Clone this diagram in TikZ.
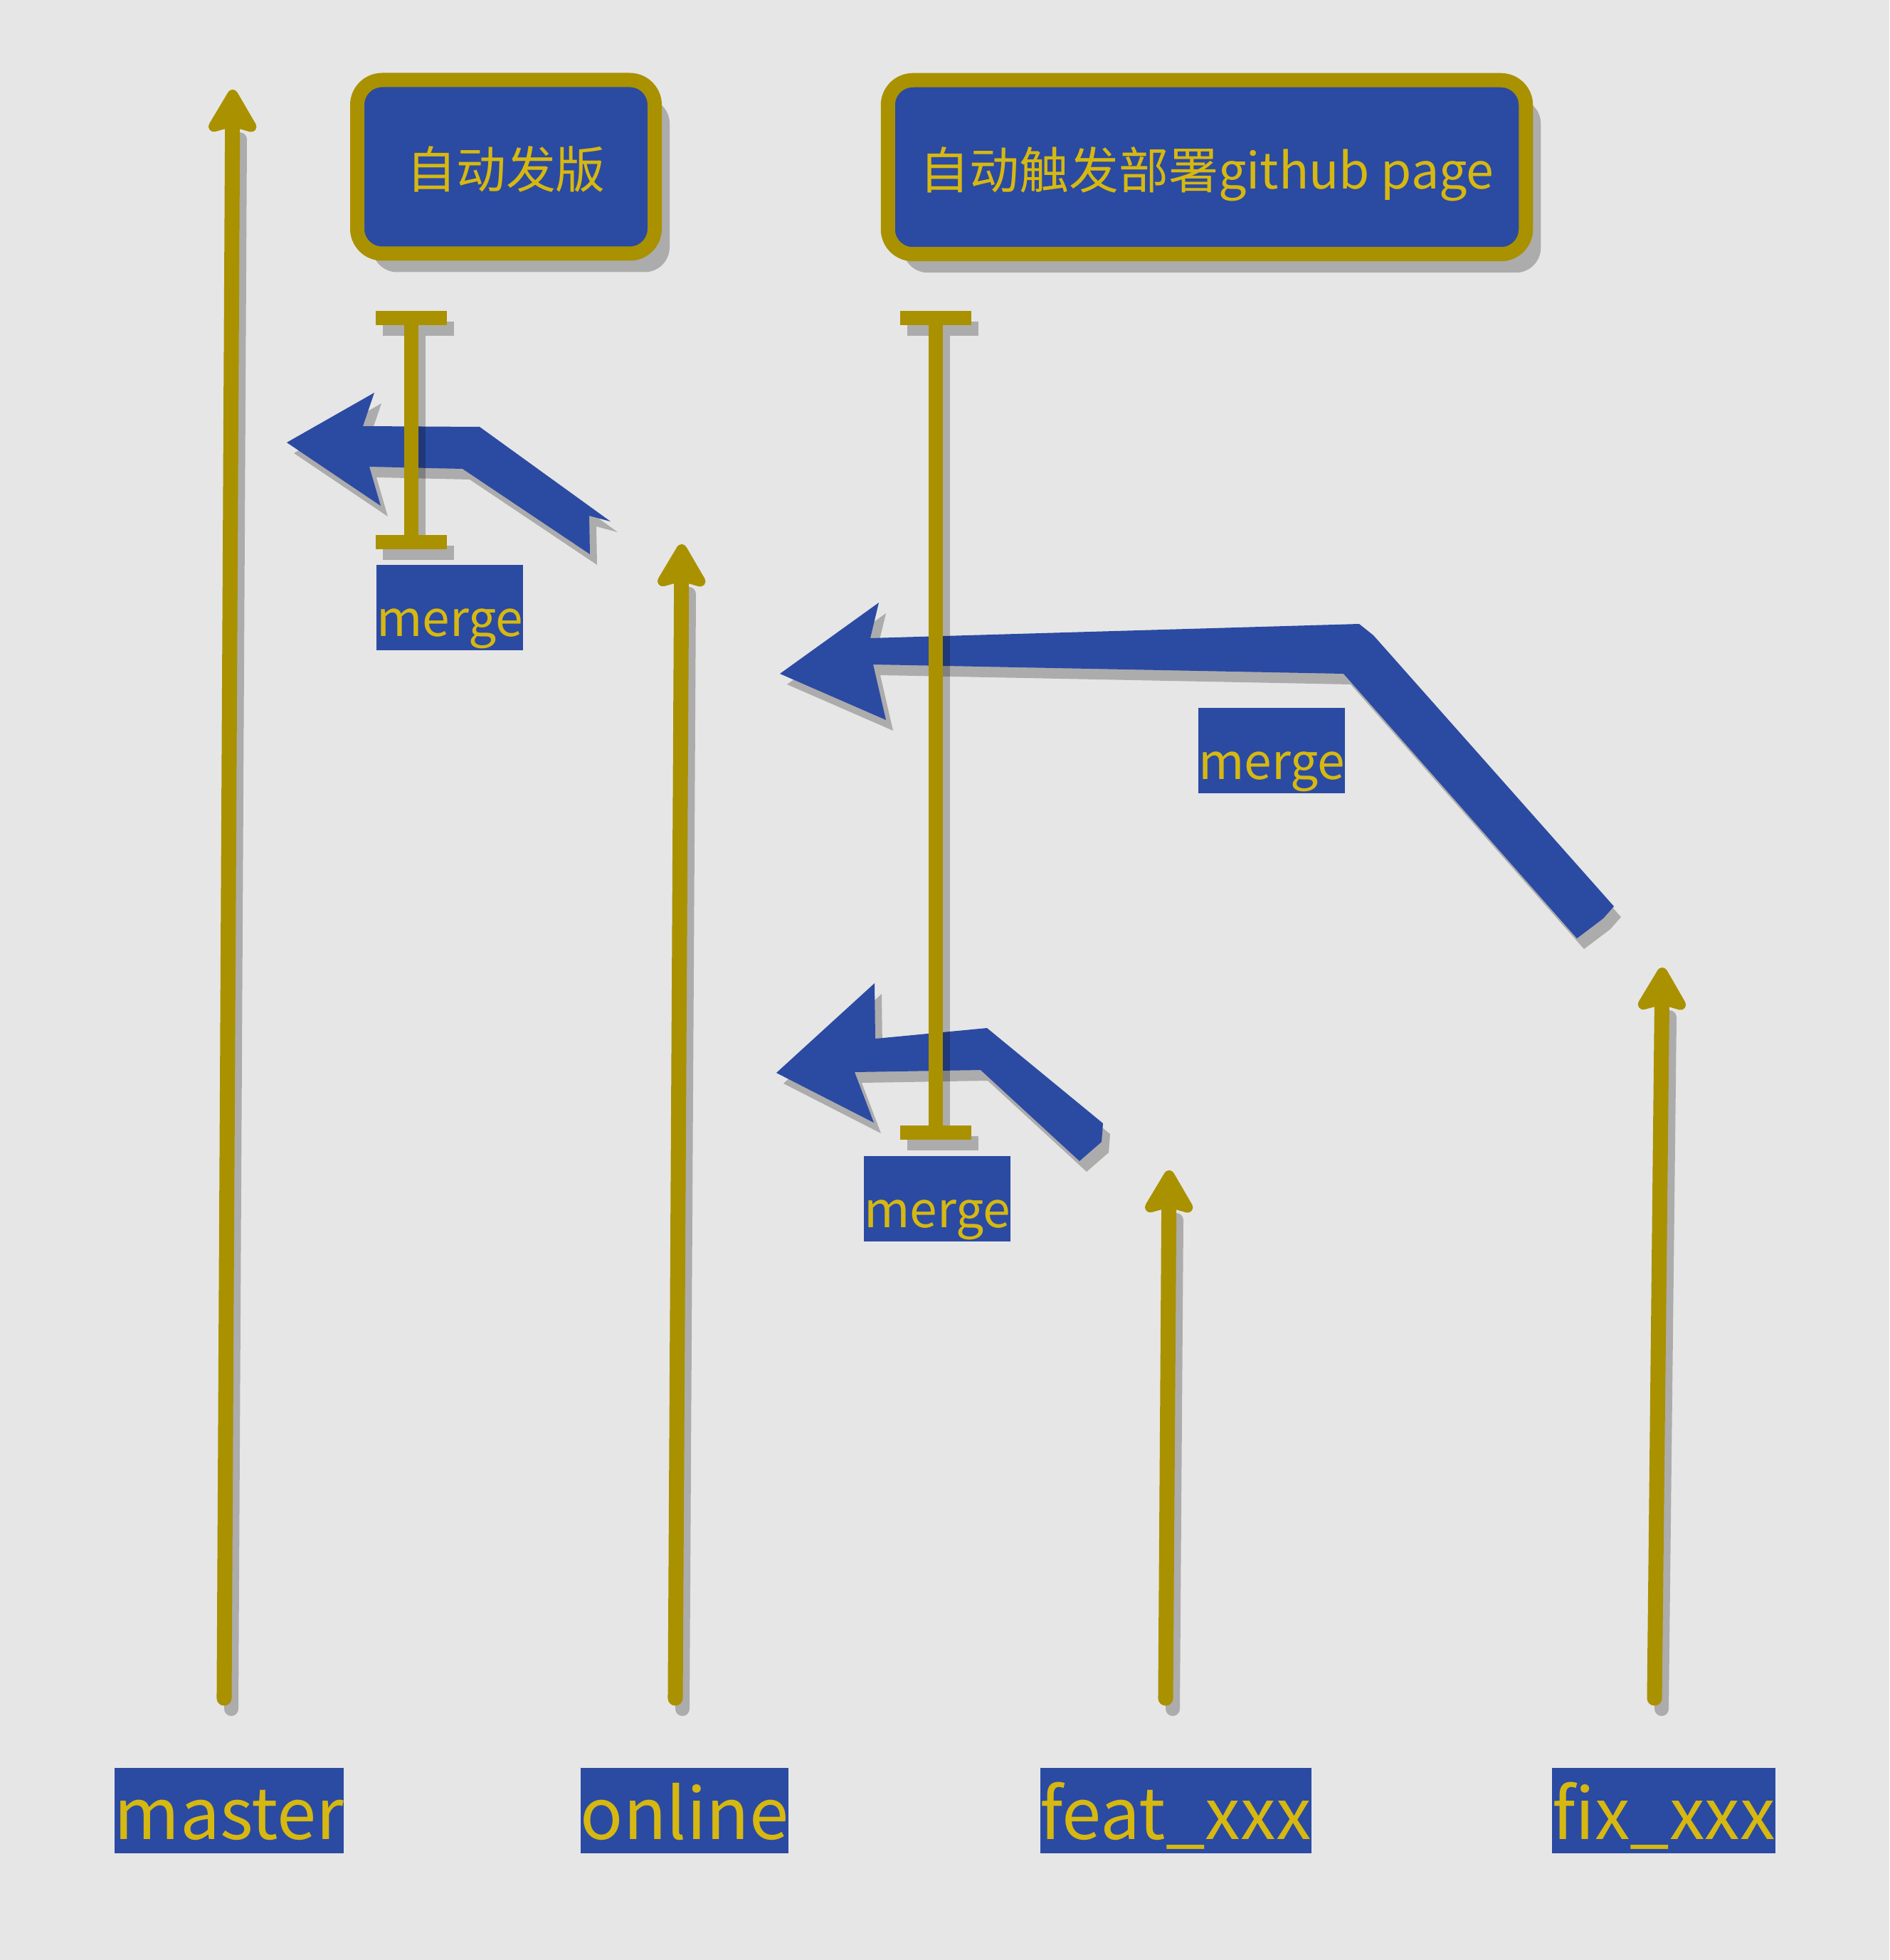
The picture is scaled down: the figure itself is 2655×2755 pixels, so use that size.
\documentclass[tikz,border=0pt]{standalone}
\usepackage{fontspec}
\setmainfont{Noto Sans CJK SC}
\usetikzlibrary{arrows.meta,shadows}

\definecolor{canvas}{RGB}{230,230,230}
\definecolor{flowblue}{RGB}{43,74,162}
\definecolor{branchgold}{RGB}{170,145,0}
\definecolor{labelgold}{RGB}{214,184,16}

\tikzset{
  branchlabel/.style={fill=flowblue, text=labelgold, inner sep=0pt, anchor=base,
    text height=28.45pt, text depth=5.69pt,
    font=\fontsize{28.3pt}{28.3pt}\selectfont},
  mergelabel/.style={branchlabel, font=\fontsize{19.8pt}{19.8pt}\selectfont},
  stagebox/.style={draw=branchgold, line width=5.69pt, fill=flowblue,
    rounded corners=3.5mm, text=labelgold, inner sep=0pt,
    text height=7mm, text depth=0.9mm,
    font=\fontsize{19.9pt}{19.9pt}\selectfont,
    drop shadow={shadow xshift=2.1mm, shadow yshift=-2.6mm, fill=black, opacity=0.25}},
  branchline/.style={draw=branchgold, line width=6pt, line cap=round,
    -{Stealth[length=20pt, width=23pt, inset=3pt, round]}},
  shadowline/.style={draw=black, opacity=0.25, line width=5.69pt},
  ibar/.style={draw=branchgold, line width=5.69pt},
  mergearrow/.style={fill=flowblue},
  mergeshadow/.style={fill=black, opacity=0.25, shift={(10,15)}}
}

\begin{document}
\begin{tikzpicture}[x=0.1mm,y=-0.1mm]
  \pgfmathsetmacro\sx{10}   % shadow offset
  \pgfmathsetmacro\sy{15}

  \fill[canvas] (0,0) rectangle (2655,2755);
  \useasboundingbox (0,0) rectangle (2655,2755);

% merge arrows (outlines)
  \def\mergeup{(403,622) -- (526,552) -- (510,599) -- (674,600) -- (858,733) -- (828,725)
    -- (829,779) -- (650,659) -- (519,656) -- (535,711) -- cycle}
  \def\mergefix{(1096,947) -- (1235,847) -- (1223,897) -- (1910,877) -- (1930,893) -- (2268,1274)
    -- (2253,1291) -- (2216,1319) -- (1888,947) -- (1227,934) -- (1245,1012) -- cycle}
  \def\mergefeat{(1091,1508) -- (1229,1382) -- (1230,1460) -- (1387,1445) -- (1550,1579)
    -- (1548,1605) -- (1517,1632) -- (1378,1504) -- (1201,1507) -- (1228,1578) -- cycle}
  \fill[mergeshadow] \mergeup;
  \fill[mergearrow]  \mergeup;
  \fill[mergeshadow] \mergefix;
  \fill[mergearrow]  \mergefix;
  \fill[mergeshadow] \mergefeat;
  \fill[mergearrow]  \mergefeat;

% release bars
  \coordinate (rel top) at (578,447);
  \coordinate (rel end) at (578,762);
  \coordinate (pages top) at (1315,447);
  \coordinate (pages end) at (1315,1592);
  \draw[shadowline] ([shift={(\sx-50,\sy)}]rel top) -- ++(100,0) ([shift={(\sx,\sy)}]rel top) -- ([shift={(\sx,\sy)}]rel end)
    ([shift={(\sx-50,\sy)}]rel end) -- ++(100,0);
  \draw[ibar] (rel top) ++(-50,0) -- ++(100,0) (rel top) -- (rel end) ++(-50,0) -- ++(100,0);
  \draw[shadowline] ([shift={(\sx-50,\sy)}]pages top) -- ++(100,0) ([shift={(\sx,\sy)}]pages top) -- ([shift={(\sx,\sy)}]pages end)
    ([shift={(\sx-50,\sy)}]pages end) -- ++(100,0);
  \draw[ibar] (pages top) ++(-50,0) -- ++(100,0) (pages top) -- (pages end) ++(-50,0) -- ++(100,0);

% branch lines
  \coordinate (master tail) at (315,2387);
  \coordinate (master head) at (327,126);
  \coordinate (online tail) at (949,2387);
  \coordinate (online head) at (958,765);
  \coordinate (feat tail) at (1638,2387);
  \coordinate (feat head) at (1643,1645);
  \coordinate (fix tail) at (2325,2387);
  \coordinate (fix head) at (2336,1360);
  \draw[shadowline,line cap=round] ([shift={(\sx,\sy)}]master tail) -- ([shift={(\sx,70)}]master head);
  \draw[shadowline,line cap=round] ([shift={(\sx,\sy)}]online tail) -- ([shift={(\sx,70)}]online head);
  \draw[shadowline,line cap=round] ([shift={(\sx,\sy)}]feat tail) -- ([shift={(\sx,70)}]feat head);
  \draw[shadowline,line cap=round] ([shift={(\sx,\sy)}]fix tail) -- ([shift={(\sx,70)}]fix head);
  \draw[branchline] (master tail) -- (master head);
  \draw[branchline] (online tail) -- (online head);
  \draw[branchline] (feat tail) -- (feat head);
  \draw[branchline] (fix tail) -- (fix head);

% stages
  \node[stagebox, minimum width=41.8mm, minimum height=24.4mm] (release) at (711,234.5) {自动发版};
  \node[stagebox, minimum width=89.65mm, minimum height=24.45mm] (pages) at (1696,235) {自动触发部署github page};

% merge labels
  \node[mergelabel] (merge rel) at (632,894) {merge};
  \node[mergelabel] (merge fix) at (1787,1095) {merge};
  \node[mergelabel] (merge feat) at (1317,1725) {merge};

% branch labels
  \node[branchlabel] (master) at (322,2585) {master};
  \node[branchlabel] (online) at (962,2585) {online};
  \node[branchlabel] (feat) at (1652,2585) {feat\_xxx};
  \node[branchlabel] (fix) at (2338,2585) {fix\_xxx};

\end{tikzpicture}
\end{document}
